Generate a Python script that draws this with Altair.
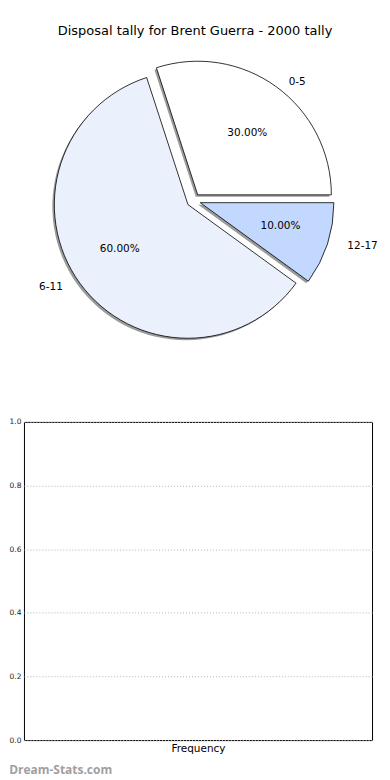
import math
import altair as alt
import pandas as pd

# ---- data ----
categories = ["0-5", "6-11", "12-17"]
values = [30, 60, 10]
slice_colors = ["#ffffff", "#eaf1fd", "#c3d8fe"]
y_ticks = [0.0, 0.2, 0.4, 0.6, 0.8, 1.0]
title_text = "Disposal tally for Brent Guerra - 2000 tally"
x_title = "Frequency"
watermark = ["Dream-Stats.com"]

# ---- layout / style constants (pixels) ----
LEFT = 14.8                # width taken by the y labels of the lower panel
PANEL_W = 358
PANEL_H = 370
CX, CY = 192.9 - 8 - LEFT, 154.0   # pie centre inside the top panel
R = 134                    # pie radius
LRX, LRY = 141, 127        # radii used to place the labels
EXPLODE = 7                # explode distance
FONT = "DejaVu Sans"

pie_df = pd.DataFrame({"category": categories, "value": values,
                       "order": list(range(len(categories)))})

base = (
    alt.Chart(pie_df)
    .transform_joinaggregate(total="sum(value)")
    .transform_window(cum="sum(value)", sort=[alt.SortField("order")], frame=[None, 0])
    .transform_calculate(
        a0="(datum.cum - datum.value) / datum.total * 2 * PI",
        a1="datum.cum / datum.total * 2 * PI",
    )
    .transform_calculate(
        mid="(datum.a0 + datum.a1) / 2",
        t0="PI / 2 - datum.a0",
        t1="PI / 2 - datum.a1",
        pct="format(datum.value / datum.total * 100, '.2f') + '%'",
    )
    .transform_calculate(
        cx=f"{CX} + {EXPLODE} * cos(datum.mid)",
        cy=f"{CY} - {EXPLODE} * sin(datum.mid)",
    )
    .transform_calculate(
        px=f"datum.cx + 0.6 * {LRX} * cos(datum.mid)",
        py=f"datum.cy - 0.6 * {LRY} * sin(datum.mid)",
        lx=f"datum.cx + 1.1 * {LRX} * cos(datum.mid)",
        ly=f"datum.cy - 1.1 * {LRY} * sin(datum.mid)",
        right="cos(datum.mid) >= 0",
    )
)

arc_enc = dict(
    x=alt.X("cx:Q", scale=None),
    y=alt.Y("cy:Q", scale=None),
    theta=alt.Theta("t0:Q", scale=None, stack=None),
    theta2="t1:Q",
)

shadow = base.mark_arc(radius=R, color="#8a8a8a", opacity=0.85,
                       xOffset=-2, yOffset=2).encode(**arc_enc)

slices = base.mark_arc(radius=R, stroke="black", strokeWidth=0.8).encode(
    color=alt.Color("category:N", scale=alt.Scale(domain=categories, range=slice_colors),
                    legend=None),
    **arc_enc,
)

pct_text = base.mark_text(font=FONT, fontSize=10.5, color="black",
                          align="center", baseline="middle").encode(
    x=alt.X("px:Q", scale=None), y=alt.Y("py:Q", scale=None), text="pct:N")

lab_right = base.transform_filter("datum.right").mark_text(
    font=FONT, fontSize=10.5, color="black", align="left", baseline="middle").encode(
    x=alt.X("lx:Q", scale=None), y=alt.Y("ly:Q", scale=None), text="category:N")

lab_left = base.transform_filter("!datum.right").mark_text(
    font=FONT, fontSize=10.5, color="black", align="right", baseline="middle").encode(
    x=alt.X("lx:Q", scale=None), y=alt.Y("ly:Q", scale=None), text="category:N")

top = alt.layer(shadow, slices, pct_text, lab_right, lab_left).properties(
    width=PANEL_W,
    height=PANEL_H,
    view=alt.ViewBackground(stroke="transparent"),
)

# ---- empty frequency panel ----
empty_df = pd.DataFrame({"f": pd.Series([], dtype=float)})

axes_layer = alt.Chart(empty_df).mark_point(opacity=0).encode(
    x=alt.X("f:Q", scale=alt.Scale(domain=[0, 1]),
            axis=alt.Axis(title=x_title, labels=False, ticks=False, grid=False,
                          domain=False, titleFont=FONT, titleFontSize=10.5,
                          titleFontWeight="normal", titleColor="black", titlePadding=3)),
    y=alt.Y("f:Q", scale=alt.Scale(domain=[0, 1]),
            axis=alt.Axis(title=None, values=y_ticks, format=".1f", labelFont=FONT,
                          labelFontSize=7.5, labelColor="#222222", ticks=False,
                          domain=False, grid=True, gridDash=[1, 2],
                          gridColor="#b4b4b4", gridWidth=1, labelPadding=3)),
)

wm_layer = alt.Chart(pd.DataFrame({"wm": watermark})).mark_text(
    font="Open Sans", fontWeight="bold", fontSize=12, color="#a0a0a0",
    align="left", baseline="middle").encode(
    x=alt.value(-LEFT), y=alt.value(349), text="wm:N")

bottom = alt.layer(axes_layer, wm_layer).properties(width=349, height=319)

chart = (
    alt.vconcat(top, bottom, spacing=0)
    .properties(
        padding={"left": 0, "right": 0, "top": 16, "bottom": 0},
        title=alt.TitleParams(title_text, font=FONT, fontSize=13, fontWeight="normal",
                              color="black", anchor="middle", offset=8),
    )
    .configure_view(stroke="black", strokeWidth=1)
)

chart.save("out.html", embed_options={"renderer": "svg", "actions": False})
